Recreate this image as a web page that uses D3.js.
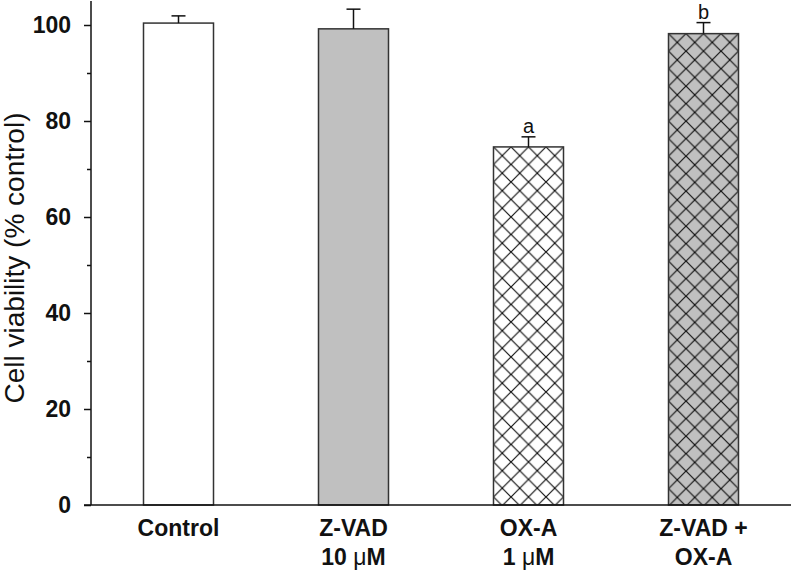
<!DOCTYPE html>
<html><head><meta charset="utf-8">
<script src="https://cdn.jsdelivr.net/npm/d3@7"></script>
<style>
html,body{margin:0;padding:0;background:#fff;}
svg{display:block;font-family:"Liberation Sans",Arial,sans-serif;}
</style></head>
<body><svg id="c" width="793" height="570"></svg>
<script>
const categories = ["Control", "Z-VAD 10 μM", "OX-A 1 μM", "Z-VAD + OX-A"];
const labelLines = [["Control"], ["Z-VAD", "10 μM"], ["OX-A", "1 μM"], ["Z-VAD +", "OX-A"]];
const values = [100.4, 99.2, 74.6, 98.2];
const errors = [1.5, 4.1, 2.1, 2.3];
const letters = ["", "", "a", "b"];
const majorTicks = [0, 20, 40, 60, 80, 100];
const minorTicks = [10, 30, 50, 70, 90];
const fills = ["#ffffff", "#c0c0c0", "#ffffff", "#c0c0c0"];
const hatched = [false, false, true, true];

const svg = d3.select("#c");
const x = d3.scaleBand().domain(categories).range([91, 791]).paddingInner(0.6).paddingOuter(0.3);
const y = d3.scaleLinear().domain([0, 105]).range([505, 1]);

const defs = svg.append("defs");
const s = 17.5;
categories.forEach((c, i) => {
  if (!hatched[i]) return;
  const p = defs.append("pattern").attr("id", "h" + i)
    .attr("patternUnits", "userSpaceOnUse").attr("width", s).attr("height", s)
    .attr("x", x(c) + x.bandwidth() / 2).attr("y", y(values[i]));
  p.append("rect").attr("width", s).attr("height", s).attr("fill", fills[i]);
  p.append("path").attr("d", `M0,0L${s},${s}M${s},0L0,${s}M${-s/2},${s/2}L${s/2},${-s/2}M${s/2},${s*1.5}L${s*1.5},${s/2}M${-s/2},${s/2}L${s/2},${s*1.5}M${s/2},${-s/2}L${s*1.5},${s/2}`)
    .attr("stroke", "#111").attr("stroke-width", 1.2).attr("fill", "none");
});

// bars
svg.selectAll("rect.bar").data(categories).join("rect").attr("class", "bar")
  .attr("x", d => x(d)).attr("width", x.bandwidth())
  .attr("y", (d, i) => y(values[i])).attr("height", (d, i) => y(0) - y(values[i]))
  .attr("fill", (d, i) => hatched[i] ? `url(#h${i})` : fills[i])
  .attr("stroke", "#333").attr("stroke-width", 1.5);

// error bars
const eb = svg.append("g").attr("stroke", "#111").attr("stroke-width", 1.5);
categories.forEach((c, i) => {
  const cx = x(c) + x.bandwidth() / 2;
  eb.append("line").attr("x1", cx).attr("x2", cx).attr("y1", y(values[i])).attr("y2", y(values[i] + errors[i]));
  eb.append("line").attr("x1", cx - 7).attr("x2", cx + 7).attr("y1", y(values[i] + errors[i])).attr("y2", y(values[i] + errors[i]));
  if (letters[i]) {
    svg.append("text").attr("x", cx).attr("y", y(values[i] + errors[i]) - 4)
      .attr("text-anchor", "middle").attr("font-size", 20).attr("fill", "#111").text(letters[i]);
  }
});

// y axis
const yAxis = svg.append("g").attr("transform", "translate(91,0)")
  .call(d3.axisLeft(y).tickValues(majorTicks).tickSize(7).tickPadding(13).tickFormat(d3.format("d")));
yAxis.select(".domain").attr("stroke", "#111").attr("stroke-width", 1.5).attr("d", `M0,${y(105)}V${y(0)}`);
yAxis.selectAll(".tick line").attr("stroke", "#111").attr("stroke-width", 1.5);
yAxis.selectAll(".tick text").attr("font-size", 23).attr("font-weight", "bold")
  .attr("font-family", "Liberation Sans, Arial, sans-serif").attr("fill", "#111");
const yMinor = svg.append("g").attr("transform", "translate(91,0)")
  .call(d3.axisLeft(y).tickValues(minorTicks).tickSize(4).tickFormat(""));
yMinor.select(".domain").remove();
yMinor.selectAll(".tick line").attr("stroke", "#111").attr("stroke-width", 1.5);

// x axis
const xAxis = svg.append("g").attr("transform", `translate(0,${y(0)})`)
  .call(d3.axisBottom(x).tickSize(0).tickFormat(""));
xAxis.select(".domain").attr("stroke", "#111").attr("stroke-width", 1.5).attr("d", "M84,0H791");

// x labels
categories.forEach((c, i) => {
  const cx = x(c) + x.bandwidth() / 2;
  labelLines[i].forEach((ln, j) => {
    const t = svg.append("text").attr("x", cx).attr("y", 536 + j * 29)
      .attr("text-anchor", "middle").attr("font-size", 23).attr("font-weight", "bold").attr("fill", "#111");
    const k = ln.indexOf("μ");
    if (k >= 0) {
      t.append("tspan").text(ln.slice(0, k));
      t.append("tspan").attr("font-weight", "normal").text("μ");
      t.append("tspan").text(ln.slice(k + 1));
    } else t.text(ln);
  });
});

// y title
svg.append("text").attr("transform", "translate(24,258) rotate(-90)")
  .attr("text-anchor", "middle").attr("font-size", 28).attr("fill", "#111")
  .text("Cell viability (% control)");
</script></body></html>
